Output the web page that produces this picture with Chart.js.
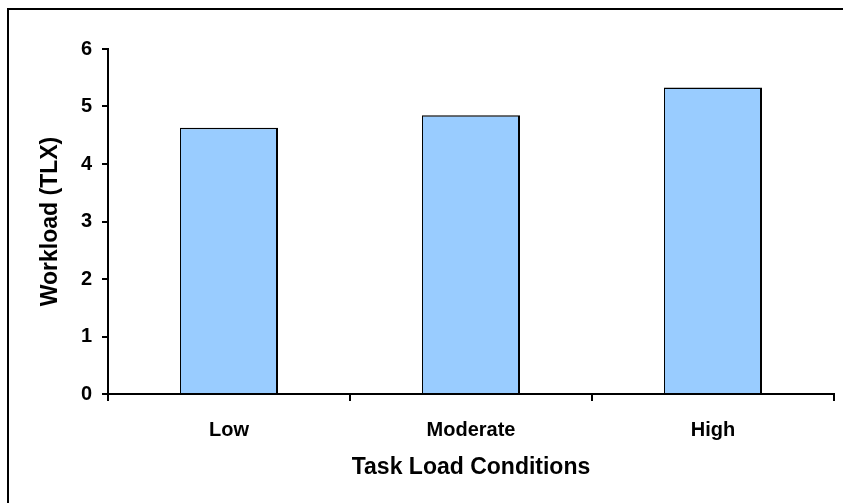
<!DOCTYPE html>
<html>
<head>
<meta charset="utf-8">
<script src="https://cdn.jsdelivr.net/npm/chart.js@4.4.1/dist/chart.umd.min.js"></script>
<style>
html,body{margin:0;padding:0;background:#fff;}
#wrap{width:843px;height:503px;position:relative;}
</style>
</head>
<body>
<div id="wrap"><canvas id="c" width="843" height="503"></canvas></div>
<script>
const categories = ["Low", "Moderate", "High"];
const workload = [4.63, 4.85, 5.33];
const yTicks = [0, 1, 2, 3, 4, 5, 6];

const frame = {
  id: 'frame',
  afterDraw(chart) {
    const ctx = chart.ctx;
    ctx.save();
    ctx.strokeStyle = '#000';
    ctx.lineWidth = 2;
    ctx.strokeRect(8, 9, 900, 600);
    ctx.restore();
  }
};

const fam = '"Liberation Sans", Arial, sans-serif';

new Chart(document.getElementById('c'), {
  type: 'bar',
  data: {
    labels: categories,
    datasets: [{
      data: workload,
      backgroundColor: '#99CCFF',
      borderColor: '#000',
      borderWidth: {left: 1, top: 1.5, right: 2, bottom: 0},
      borderSkipped: false,
      categoryPercentage: 1,
      barPercentage: 0.405
    }]
  },
  options: {
    responsive: false,
    animation: false,
    devicePixelRatio: 1,
    layout: {padding: {left: 0, top: 49, right: 9, bottom: 0}},
    plugins: {legend: {display: false}, tooltip: {enabled: false}},
    scales: {
      x: {
        afterFit(s) { s.height = 109; },
        grid: {display: true, drawOnChartArea: false, drawTicks: true, tickLength: 7, color: '#000', lineWidth: 2, offset: true},
        border: {display: true, color: '#000', width: 2},
        ticks: {color: '#000', font: {family: fam, weight: 'bold', size: 20}, padding: 17, maxRotation: 0},
        title: {display: true, text: 'Task Load Conditions', color: '#000', font: {family: fam, weight: 'bold', size: 23}, padding: {top: 4, bottom: 22}}
      },
      y: {
        min: 0, max: 6,
        afterFit(s) { s.width = 108; },
        afterBuildTicks(s) { s.ticks = yTicks.map(v => ({value: v})); },
        grid: {display: true, drawOnChartArea: false, drawTicks: true, tickLength: 6, color: '#000', lineWidth: 2},
        border: {display: true, color: '#000', width: 2},
        ticks: {color: '#000', font: {family: fam, weight: 'bold', size: 20}, padding: 10},
        title: {display: true, text: 'Workload (TLX)', color: '#000', font: {family: fam, weight: 'bold', size: 23}, padding: {top: 37, bottom: 4}}
      }
    }
  },
  plugins: [frame]
});
</script>
</body>
</html>
